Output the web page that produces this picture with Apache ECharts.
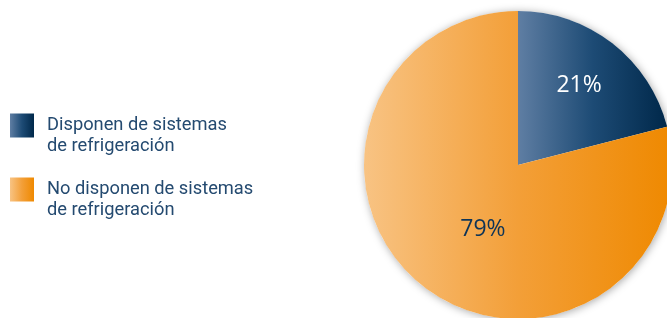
<!DOCTYPE html>
<html>
<head>
<meta charset="utf-8">
<script src="https://cdn.jsdelivr.net/npm/echarts@6/dist/echarts.min.js"></script>
<style>
  html, body { margin: 0; padding: 0; background: #fff; }
  #chart { width: 667px; height: 318px; }
</style>
</head>
<body>
<div id="chart"></div>
<script>
// datos
var categories = ["Disponen de sistemas\nde refrigeración", "No disponen de sistemas\nde refrigeración"];
var values = [21, 79];

var chart = echarts.init(document.getElementById("chart"));

//degradados
var blueGrad = new echarts.graphic.LinearGradient(0, 0, 1, 0, [
  { offset: 0, color: "#5f7ea3" },
  { offset: 0.5, color: "#1d4b75" },
  { offset: 1, color: "#00284a" }
]);
var orangeGrad = new echarts.graphic.LinearGradient(0, 0, 1, 0, [
  { offset: 0, color: "#f8c383" },
  { offset: 0.5, color: "#f39f38" },
  { offset: 1, color: "#ef8900" }
]);
var colors = [blueGrad, orangeGrad];
var labelColors = ["#ffffff", "#0d3457"];
var labelShift = [[12, -16], [14, 1]];

var option = {
  backgroundColor: "#ffffff",
  animation: false,
  legend: {
    orient: "vertical",
    left: 5,
    top: 89,
    icon: "rect",
    itemWidth: 24,
    itemHeight: 24,
    itemGap: 1,
    selectedMode: false,
    data: categories,
    formatter: function (name) {
      // línea vacía arriba para que el cuadro quede alineado con la primera línea
      return " \n" + name;
    },
    textStyle: {
      color: "#244a70",
      fontFamily: "Roboto",
      fontSize: 18.3,
      lineHeight: 21,
      padding: [0, 0, 0, 8]
    }
  },
  series: [
    {
      // sombra del círculo
      type: "pie",
      center: [518, 165],
      radius: 154,
      silent: true,
      z: 1,
      label: { show: false },
      itemStyle: {
        color: "#ffffff",
        shadowBlur: 8,
        shadowColor: "rgba(0,0,0,0.35)",
        shadowOffsetX: 1,
        shadowOffsetY: 1
      },
      data: [{ value: 1, name: "_sombra" }]
    },
    {
      type: "pie",
      center: [518, 165],
      radius: 154,
      startAngle: 90,
      clockwise: true,
      z: 2,
      label: {
        show: true,
        position: "inside",
        fontFamily: "Open Sans",
        fontSize: 23,
        formatter: "{c}%"
      },
      labelLayout: function (params) {
        return { dx: labelShift[params.dataIndex][0], dy: labelShift[params.dataIndex][1] };
      },
      labelLine: { show: false },
      itemStyle: { borderWidth: 0 },
      data: categories.map(function (name, i) {
        return {
          name: name,
          value: values[i],
          itemStyle: { color: colors[i] },
          label: { color: labelColors[i] }
        };
      })
    }
  ]
};
chart.setOption(option);
window.addEventListener("resize", function () {
  chart.resize();
});
</script>
</body>
</html>
